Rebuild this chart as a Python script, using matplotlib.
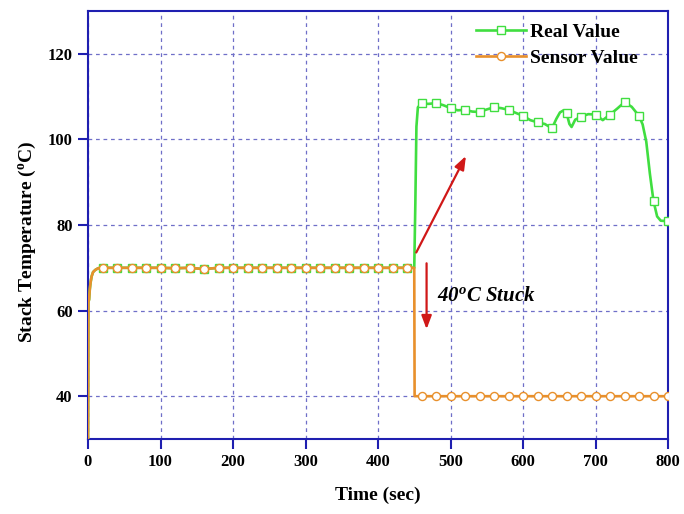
import numpy as np
import matplotlib
matplotlib.use('Agg')
import matplotlib.pyplot as plt

plt.rcParams['font.family'] = ['Liberation Serif', 'DejaVu Serif']
plt.rcParams['font.weight'] = 'bold'
plt.rcParams['mathtext.fontset'] = 'custom'
plt.rcParams['mathtext.rm'] = 'Liberation Serif:bold'
plt.rcParams['mathtext.bf'] = 'Liberation Serif:bold'
plt.rcParams['mathtext.it'] = 'Liberation Serif:bold:italic'

# sensor reading: start-up, steady ~70, then stuck at 40 after the fault
sensorTime = [0, 0.6, 1.5, 2.5, 3.5, 5, 7, 10, 14,
              20, 40, 60, 80, 100, 120, 140, 160, 180, 200, 220,
              240, 260, 280, 300, 320, 340, 360, 380, 400, 420, 440,
              450, 450.5,
              460, 480, 500, 520, 540, 560, 580, 600, 620, 640, 660,
              680, 700, 720, 740, 760, 780, 800]
sensorVal = [30, 62.0, 62.6, 65.0, 66.5, 68.0, 69.0, 69.5, 69.9,
             70.0, 70.0, 70.0, 70.0, 70.0, 69.9, 70.0, 69.7, 70.0, 70.0, 70.0,
             70.0, 70.0, 70.0, 70.0, 70.0, 70.0, 70.0, 70.0, 70.0, 70.0, 70.0,
             70.0, 40.0,
             40, 40, 40, 40, 40, 40, 40, 40, 40, 40, 40,
             40, 40, 40, 40, 40, 40, 40]

# real stack temperature after the fault
realTime = [450, 451.5, 453, 455, 460, 470, 480, 490, 500, 510, 520, 530,
            540, 550, 560, 570, 580, 590, 600, 610, 620, 630, 640, 646,
            651, 656, 660, 664, 667, 672, 680, 690, 700, 710, 720, 730,
            740, 750, 760, 765, 770, 775, 780, 785, 790, 800]
realVal = [70.0, 85.0, 103.0, 107.5, 108.4, 108.3, 108.5, 108.0, 107.3, 106.8, 106.9, 106.5,
           106.4, 107.0, 107.5, 107.3, 106.9, 106.2, 105.5, 104.5, 104.0, 103.6, 102.6, 104.8,
           106.3, 106.8, 106.2, 103.6, 102.9, 104.6, 105.3, 105.9, 105.8, 104.5, 105.8, 107.2,
           108.7, 107.6, 105.5, 103.5, 99.5, 92.0, 85.6, 82.0, 81.0, 80.9]

green = '#40de40'
orange = '#e8902c'
blue = '#1f1fb0'

# before the fault the real value follows the sensor
preIdx = [i for i, t in enumerate(sensorTime) if t <= 450]
realT = [sensorTime[i] for i in preIdx] + realTime[1:]
realV = [sensorVal[i] for i in preIdx] + realVal[1:]

realMarks = [i for i, t in enumerate(realT) if t >= 20 and t % 20 == 0]
sensorMarks = [i for i, t in enumerate(sensorTime) if t >= 20 and t % 20 == 0]

fig = plt.figure(figsize=(6.84, 5.14), dpi=100)
ax = fig.add_axes([88/684, 1-439/514, 580/684, 428/514])

ax.plot(realT, realV, color=green, lw=1.9, marker='s', ms=5.2, mfc='white',
        mec=green, mew=1.0, markevery=realMarks, label='Real Value', zorder=3)
ax.plot(sensorTime, sensorVal, color=orange, lw=1.9, marker='o', ms=5.8, mfc='white',
        mec=orange, mew=1.0, markevery=sensorMarks, label='Sensor Value', zorder=4)

ax.set_xlim(0, 800)
ax.set_ylim(30, 130)
ax.set_xticks(np.arange(0, 801, 100))
ax.set_yticks(np.arange(40, 121, 20))
ax.grid(True, color='#6f6fc8', linestyle=(0, (3, 3)), lw=0.9)
ax.set_axisbelow(True)

for s in ax.spines.values():
    s.set_color(blue)
    s.set_linewidth(1.5)
ax.tick_params(axis='both', direction='out', length=7, width=1.5, color=blue,
               labelsize=12, pad=4)
ax.tick_params(top=False, right=False)

ax.set_xlabel('Time (sec)', fontsize=14, fontweight='bold', labelpad=12)
ax.set_ylabel(r'Stack Temperature ($\mathbf{^o}$C)', fontsize=14, fontweight='bold')
ax.yaxis.set_label_coords(-0.087, 0.46)

# arrows marking the split between real and sensed values
red = '#d01818'
ax.annotate('', xy=(523, 96.7), xytext=(451, 73),
            arrowprops=dict(arrowstyle='-|>,head_length=0.8,head_width=0.3', color=red, lw=1.6))
ax.annotate('', xy=(467, 55), xytext=(467, 71.7),
            arrowprops=dict(arrowstyle='-|>,head_length=0.8,head_width=0.3', color=red, lw=1.6))
ax.text(481, 63.5, r'40$^o$C Stuck', fontsize=15, fontweight='bold', style='italic',
        va='center', ha='left')

ax.legend(loc='upper right', bbox_to_anchor=(0.97, 1.0), frameon=False, fontsize=14,
          handlelength=2.6, handletextpad=0.2, labelspacing=0.4, borderaxespad=0.25)

fig.savefig('out.png', dpi=100)
